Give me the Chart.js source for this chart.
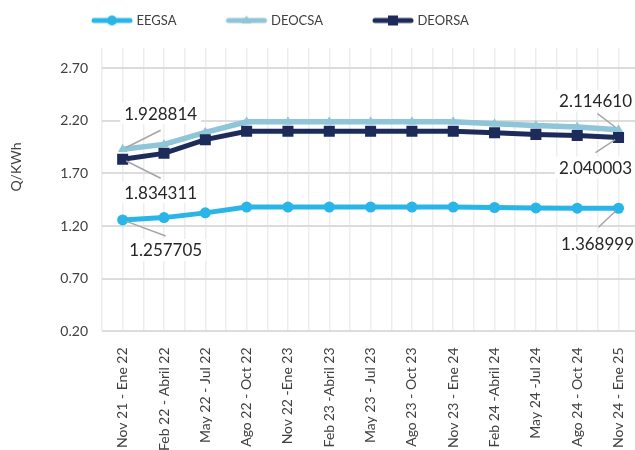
<!DOCTYPE html>
<html>
<head>
<meta charset="utf-8">
<script src="https://cdn.jsdelivr.net/npm/chart.js@4.4.1/dist/chart.umd.min.js"></script>
<style>
  html, body { margin: 0; padding: 0; background: #fff; overflow: hidden; }
  #wrap { position: relative; width: 635px; height: 450px; overflow: hidden; }
  #box { position: absolute; left: 0; top: 0; width: 647px; height: 459px; }
</style>
</head>
<body>
<div id="wrap"><div id="box"><canvas id="tarifa-chart"></canvas></div></div>
<script>
// Tarifa social por trimestre (Q/KWh).
const periods = [
  'Nov 21 - Ene 22', 'Feb 22 - Abril 22', 'May 22 - Jul 22', 'Ago 22 - Oct 22',
  'Nov 22 -Ene 23', 'Feb 23 -Abril 23', 'May 23 - Jul 23', 'Ago 23 - Oct 23',
  'Nov 23 - Ene 24', 'Feb 24 -Abril 24', 'May 24 -Jul 24', 'Ago 24 - Oct 24',
  'Nov 24 - Ene 25',
];
const eegsa  = [1.257705, 1.28, 1.325, 1.38, 1.38, 1.38, 1.38, 1.38, 1.38, 1.376, 1.372, 1.37, 1.368999];
const deocsa = [1.928814, 1.975, 2.09, 2.19, 2.19, 2.19, 2.19, 2.19, 2.19, 2.17, 2.155, 2.14, 2.114610];
const deorsa = [1.834311, 1.89, 2.02, 2.10, 2.10, 2.10, 2.10, 2.10, 2.10, 2.085, 2.07, 2.06, 2.040003];
const yTicks = [0.20, 0.70, 1.20, 1.70, 2.20, 2.70];
const yTitle = 'Q/KWh';

const FONT = 'Lato, "Open Sans", sans-serif';
const TEXT = '#404040';

// legend swatch: short thick line with the series marker in the middle
// (transparent space on the left so the gap between items matches the original)
function legendIcon(color, marker) {
  const c = document.createElement('canvas');
  c.width = 86; c.height = 14;
  const g = c.getContext('2d');
  g.strokeStyle = color; g.fillStyle = color;
  g.lineWidth = 5; g.lineCap = 'round';
  g.beginPath(); g.moveTo(46, 7); g.lineTo(82, 7); g.stroke();
  g.beginPath();
  if (marker === 'circle') g.arc(64, 7, 5, 0, Math.PI * 2);
  else if (marker === 'triangle') { g.moveTo(64, 2); g.lineTo(69, 10); g.lineTo(59, 10); g.closePath(); }
  else g.rect(59, 2, 10, 10);
  g.fill();
  return c;
}

// nudges the built-in legend to where it sits in the original
// (layout padding pushes the plot down; the legend is pulled back up)
const legendShift = {
  id: 'legendShift',
  afterLayout(chart) {
    const l = chart.legend;
    l.left += 42; l.right += 42;
    l.top -= 11; l.bottom -= 11;
  },
};

// axis title sits higher than Chart.js would centre it, so draw it here
const axisTitle = {
  id: 'axisTitle',
  afterDraw(chart) {
    const ctx = chart.ctx;
    ctx.save();
    ctx.translate(16, 167);
    ctx.rotate(-Math.PI / 2);
    ctx.font = '14px ' + FONT;
    ctx.fillStyle = TEXT;
    ctx.textAlign = 'center';
    ctx.textBaseline = 'middle';
    ctx.fillText(yTitle, 0, 0);
    ctx.restore();
  },
};

// Excel-style data callouts: leader line + boxed value
const callouts = {
  id: 'callouts',
  afterDatasetsDraw(chart, args, opts) {
    const ctx = chart.ctx;
    ctx.save();
    ctx.font = '17px ' + FONT;
    ctx.textAlign = 'center';
    ctx.textBaseline = 'middle';
    opts.items.forEach(it => {
      const pt = chart.getDatasetMeta(it.ds).data[it.i];
      const text = chart.data.datasets[it.ds].data[it.i].toFixed(6);
      const ex = pt.x + it.lx, ey = pt.y + it.ly;
      const len = Math.hypot(ex - pt.x, ey - pt.y);
      const sx = pt.x + (ex - pt.x) / len * 4, sy = pt.y + (ey - pt.y) / len * 4;
      ctx.strokeStyle = '#a6a6a6';
      ctx.lineWidth = 1.5;
      ctx.beginPath(); ctx.moveTo(sx, sy); ctx.lineTo(ex, ey); ctx.stroke();
      const cx = pt.x + it.tx, cy = pt.y + it.ty;
      const w = ctx.measureText(text).width;
      ctx.fillStyle = '#fff';
      ctx.fillRect(cx - w / 2 - 4, cy - 11, w + 8, 22);
      ctx.fillStyle = '#262626';
      ctx.fillText(text, cx, cy + 1);
    });
    ctx.restore();
  },
};

new Chart(document.getElementById('tarifa-chart'), {
  type: 'line',
  data: {
    labels: periods,
    datasets: [
      {
        label: 'EEGSA',
        data: eegsa,
        borderColor: '#29b5e8',
        backgroundColor: '#29b5e8',
        borderWidth: 5,
        pointStyle: 'circle',
        pointRadius: 5.5,
        pointBorderWidth: 0,
        tension: 0,
        order: 2,
        xAxisID: 'x',
        _icon: legendIcon('#29b5e8', 'circle'),
      },
      {
        label: 'DEOCSA',
        data: deocsa,
        borderColor: '#8ec5d9',
        backgroundColor: '#8ec5d9',
        borderWidth: 5.5,
        pointStyle: 'triangle',
        pointRadius: 5.5,
        pointBorderWidth: 0,
        tension: 0,
        order: 1,
        xAxisID: 'x',
        _icon: legendIcon('#8ec5d9', 'triangle'),
      },
      {
        label: 'DEORSA',
        data: deorsa,
        borderColor: '#1c2b5a',
        backgroundColor: '#1c2b5a',
        borderWidth: 5,
        pointStyle: 'rect',
        pointRadius: 7.8,
        pointBorderWidth: 0,
        tension: 0,
        order: 0,
        xAxisID: 'x',
        _icon: legendIcon('#1c2b5a', 'rect'),
      },
    ],
  },
  options: {
    responsive: true,
    maintainAspectRatio: false,
    animation: false,
    devicePixelRatio: 1,
    layout: { padding: { left: 0, right: 0, top: 15, bottom: 0 } },
    scales: {
      x: {
        type: 'category',
        offset: true,
        grid: { display: false },
        border: { display: false },
        ticks: {
          color: TEXT, font: { family: FONT, size: 14 },
          minRotation: 90, maxRotation: 90, autoSkip: false, padding: 8,
        },
      },
      // only there for the light vertical grid (category centres and midpoints)
      xg: {
        type: 'linear',
        position: 'bottom',
        min: -0.5,
        max: 12.5,
        ticks: { display: false, stepSize: 0.5 },
        grid: { color: '#ededed', lineWidth: 1.5, drawTicks: false },
        border: { display: false },
      },
      y: {
        min: 0.2,
        max: 2.89,
        afterBuildTicks: axis => { axis.ticks = yTicks.map(v => ({ value: v })); },
        afterFit: axis => { axis.width = 102; },
        ticks: {
          color: TEXT, font: { family: FONT, size: 14 }, padding: 14,
          callback: v => Number(v).toFixed(2),
        },
        grid: { color: '#dcdcdc', lineWidth: 2, drawTicks: false },
        border: { display: false },
      },
    },
    plugins: {
      tooltip: { enabled: false },
      legend: {
        display: true,
        position: 'top',
        align: 'start',
        labels: {
          color: TEXT,
          font: { family: FONT, size: 13 },
          usePointStyle: true,
          pointStyleWidth: 78,
          padding: 10,
          generateLabels: chart => chart.data.datasets.map((ds, i) => ({
            text: ds.label,
            fontColor: TEXT,
            pointStyle: ds._icon,
            fillStyle: ds.borderColor,
            strokeStyle: ds.borderColor,
            lineWidth: 0,
            hidden: false,
            datasetIndex: i,
          })),
        },
      },
      callouts: {
        items: [
          { ds: 1, i: 0,  lx: 38,  ly: -19, tx: 38,  ty: -36 },
          { ds: 2, i: 0,  lx: 38,  ly: 19,  tx: 38,  ty: 33 },
          { ds: 0, i: 0,  lx: 43,  ly: 16,  tx: 43,  ty: 30 },
          { ds: 1, i: 12, lx: -21, ly: -16, tx: -23, ty: -29 },
          { ds: 2, i: 12, lx: -23, ly: 15,  tx: -23, ty: 30 },
          { ds: 0, i: 12, lx: -20, ly: 19,  tx: -21, ty: 35 },
        ],
      },
    },
  },
  plugins: [legendShift, axisTitle, callouts],
});
</script>
</body>
</html>
